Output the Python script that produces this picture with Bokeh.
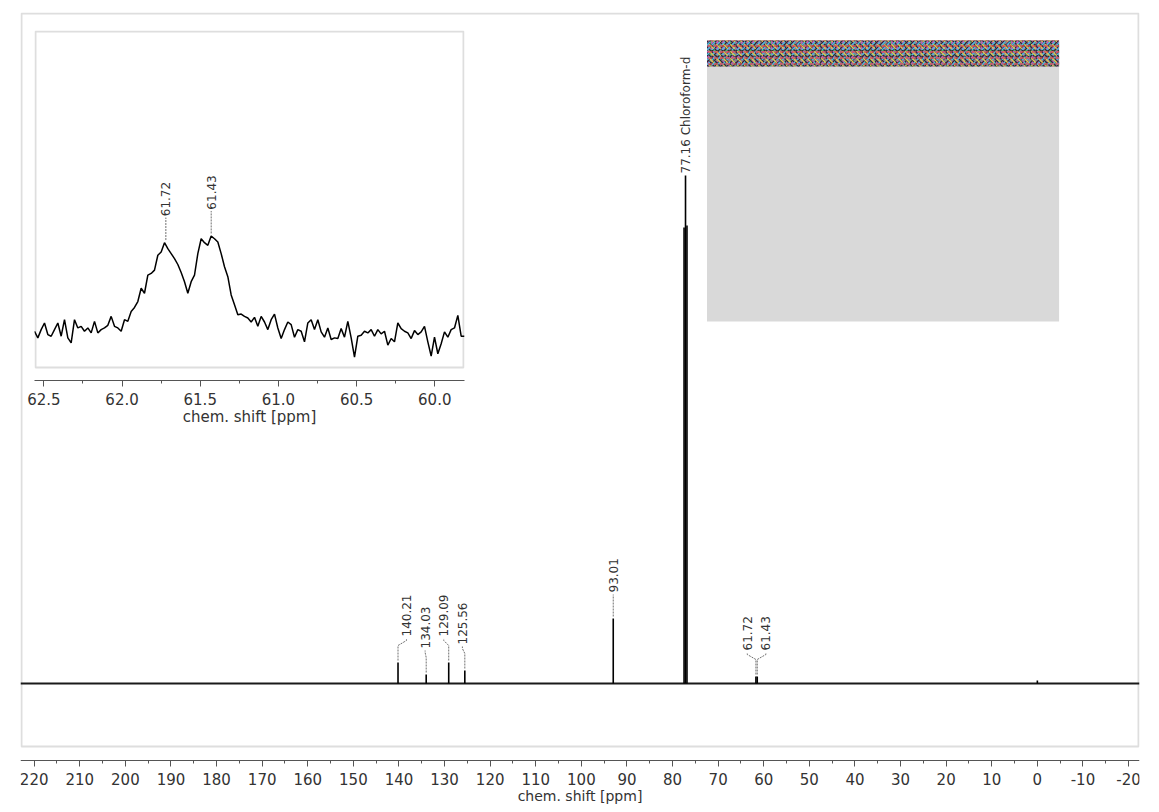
import numpy as np
from bokeh.plotting import figure
from bokeh.layouts import column
from bokeh.models import Range1d, Span, SingleIntervalTicker, PrintfTickFormatter
from bokeh.core.properties import value
from bokeh.embed import file_html
from bokeh.resources import INLINE

# ---- 13C spectrum: peak list (ppm, relative intensity) ----
peak_ppm = [140.21, 134.03, 129.09, 125.56, 93.01, 77.48, 77.16, 76.84, 61.72, 61.43, 0.00]
peak_int = [21, 9, 21, 13, 65, 456, 508, 458, 7, 7, 3]

# annotated peaks
label_ppm = [140.21, 134.03, 129.09, 125.56, 93.01, 77.16, 61.72, 61.43]
label_text = ["140.21", "134.03", "129.09", "125.56", "93.01", "77.16 Chloroform-d", "61.72", "61.43"]
label_groups = [[0, 1, 2, 3], [4], [5], [6, 7]]

# ---- expansion 62.56 - 59.81 ppm, equally spaced digital points ----
inset_start, inset_stop = 62.56, 59.81
inset_int = [
    0, -20, 5, 25, -10, -15, 5, 25, -15, 35,
    -20, -35, 35, 10, 15, 0, 10, -5, 30, -5,
    5, 10, 18, 45, 15, 10, 0, 35, 30, 60,
    72, 90, 130, 115, 170, 175, 185, 230, 240, 268,
    250, 235, 220, 202, 178, 150, 115, 150, 170, 235,
    280, 268, 260, 288, 280, 270, 235, 195, 165, 110,
    80, 50, 52, 45, 40, 28, 42, 15, 45, 28,
    5, 35, 52, 10, -22, 5, 28, 20, -18, 5,
    0, -32, 25, 35, 5, 35, -2, -18, 10, -25,
    -20, -22, 8, -18, 30, -20, -78, -15, -12, 0,
    -5, 5, -15, 5, -8, 0, -42, -22, -32, 25,
    8, 0, -5, -22, 2, -10, -2, 15, -32, -75,
    -18, -68, -38, -2, -18, 5, 10, 48, -15, -15,
]
inset_label_ppm = [61.72, 61.43]
inset_label_text = ["61.72", "61.43"]

FONT = "DejaVu Sans"
TXT = "#333333"
LEADER = "#707070"

# ---- main spectrum ----
# the frame covers the whole canvas height; the x axis sits at a fixed
# intensity level below the spectrum box
W, H = 1159, 812
FL, FT, FR = 11, 12, 7
FW, FH = W - FL - FR, H - FT
X_LEFT, X_RIGHT = 223.0, -22.4
BASE_PX = 683                      # baseline row
Y_TOP = BASE_PX - FT
Y_BOTTOM = BASE_PX - H
AXIS_Y = BASE_PX - 760


def sx(px):
    return X_LEFT - (px - FL) * (X_LEFT - X_RIGHT) / FW


def sy(py):
    return Y_TOP - (py - FT) * (Y_TOP - Y_BOTTOM) / FH


PPM_PER_PX = (X_LEFT - X_RIGHT) / FW


def style_axis(ax, interval, fmt, label_size):
    ax.ticker = SingleIntervalTicker(interval=interval, num_minor_ticks=2)
    ax.formatter = PrintfTickFormatter(format=fmt)
    ax.axis_line_color = "#555555"
    ax.major_tick_line_color = "#555555"
    ax.minor_tick_line_color = "#555555"
    ax.major_tick_in = 0
    ax.major_tick_out = 6
    ax.minor_tick_in = 0
    ax.minor_tick_out = 3
    ax.major_label_standoff = 6
    ax.major_label_text_font = FONT
    ax.major_label_text_font_size = "15px"
    ax.major_label_text_color = TXT
    ax.axis_label = "chem. shift [ppm]"
    ax.axis_label_standoff = 0
    ax.axis_label_text_font = FONT
    ax.axis_label_text_font_size = label_size
    ax.axis_label_text_font_style = "normal"
    ax.axis_label_text_color = TXT


p = figure(width=W, height=H, min_border_left=FL, min_border_right=FR,
           min_border_top=FT, min_border_bottom=0,
           x_range=Range1d(X_LEFT, X_RIGHT), y_range=Range1d(Y_BOTTOM, Y_TOP),
           y_axis_type=None, output_backend="svg", toolbar_location=None, tools="")
p.grid.visible = False
p.outline_line_color = None
p.background_fill_color = "white"
p.border_fill_color = "white"
style_axis(p.xaxis[0], 10, "%d", "14px")
p.xaxis[0].fixed_location = AXIS_Y

# light frame around the spectrum
p.quad(left=sx(12), right=sx(1151), top=sy(13), bottom=sy(746),
       fill_color=None, line_color="#dedede", line_width=2)

# baseline and peaks
p.segment(x0=[X_LEFT], y0=[0], x1=[X_RIGHT], y1=[0], line_color="#1a1a1a", line_width=2)
p.segment(x0=peak_ppm, y0=[0] * len(peak_ppm), x1=peak_ppm, y1=peak_int,
          line_color="black", line_width=1.6)

# grey panel with a textured header strip
p.quad(left=sx(711), right=sx(1070), top=sy(40), bottom=sy(321),
       fill_color="#d9d9d9", line_color=None)
p.quad(left=sx(711), right=sx(1070), top=sy(40), bottom=sy(66),
       fill_color="#8a8190", line_color=None)
for pat, col, sc in [("dot", "#3fcf62", 4), ("ring", "#d04cc0", 5),
                     ("diagonal_cross", "#2e2e38", 6), ("right_diagonal_dash", "#45c0e0", 5),
                     ("left_diagonal_dash", "#e0c848", 7), ("horizontal_dash", "#e05050", 6)]:
    p.quad(left=sx(711), right=sx(1070), top=sy(40), bottom=sy(66),
           fill_color=None, fill_alpha=0, line_color=None,
           hatch_pattern=pat, hatch_color=col, hatch_scale=sc, hatch_weight=1.3)

# peak labels with leaders
height_of = dict(zip(peak_ppm, peak_int))
lab_x, lab_y, lab_t = [], [], []
lead_xs, lead_ys = [], []
for grp in label_groups:
    n = len(grp)
    centre = np.mean([label_ppm[i] for i in grp])
    for j, i in enumerate(grp):
        ppm = label_ppm[i]
        h = height_of[ppm]
        lx = centre - (j - (n - 1) / 2) * 19 * PPM_PER_PX if n > 1 else ppm
        if h > 300:
            start = h + 2
        else:
            start = h + 26
            lead_xs.append([ppm, ppm, lx, lx])
            lead_ys.append([h + 2, start - 9, start - 4, start - 2])
        lab_x.append(lx)
        lab_y.append(start)
        lab_t.append(label_text[i])

p.multi_line(xs=lead_xs, ys=lead_ys, line_color=LEADER, line_width=1, line_dash="2 1")
p.text(x=lab_x, y=lab_y, text=lab_t, angle=np.pi / 2, text_align="left",
       text_baseline="middle", text_font=value(FONT), text_font_size="12px", text_color=TXT)

# ---- expansion ----
inset_ppm = np.linspace(inset_start, inset_stop, len(inset_int))
inset_arr = np.array(inset_int)
IY_BOTTOM, IY_TOP = -149, 910

inset = figure(width=470, height=403, min_border_left=20, min_border_right=20,
               min_border_top=5, min_border_bottom=45,
               x_range=Range1d(inset_start, inset_stop), y_range=Range1d(IY_BOTTOM, IY_TOP),
               y_axis_type=None, output_backend="svg", toolbar_location=None, tools="",
               styles={"position": "absolute", "left": "14px", "top": "25px"})
inset.grid.visible = False
inset.outline_line_color = None
inset.background_fill_color = "white"
inset.border_fill_color = None
style_axis(inset.xaxis[0], 0.5, "%.1f", "15px")

# frame of the expansion (frame bottom sits above the axis)
i_ppp = (inset_start - inset_stop) / 430
i_upp = (IY_TOP - IY_BOTTOM) / 353
inset.quad(left=inset_start - 1 * i_ppp, right=inset_stop + 1 * i_ppp,
           top=IY_TOP - 1 * i_upp, bottom=IY_TOP - 340 * i_upp,
           fill_color=None, line_color="#dedede", line_width=2)

inset.line(x=inset_ppm, y=inset_int, line_color="black", line_width=1.5)

il_x, il_y = [], []
il_xs, il_ys = [], []
for ppm in inset_label_ppm:
    near = np.abs(inset_ppm - ppm) < 0.03
    h = inset_arr[near].max()
    il_x.append(ppm)
    il_y.append(h + 80)
    il_xs.append([ppm, ppm])
    il_ys.append([h + 8, h + 76])
inset.multi_line(xs=il_xs, ys=il_ys, line_color=LEADER, line_width=1, line_dash="2 1")
inset.text(x=il_x, y=il_y, text=inset_label_text, angle=np.pi / 2, text_align="left",
           text_baseline="middle", text_font=value(FONT), text_font_size="12px", text_color=TXT)

layout = column(p, inset, styles={"position": "absolute", "left": "0px", "top": "0px"})
open("out.html", "w").write(file_html(layout, INLINE))
